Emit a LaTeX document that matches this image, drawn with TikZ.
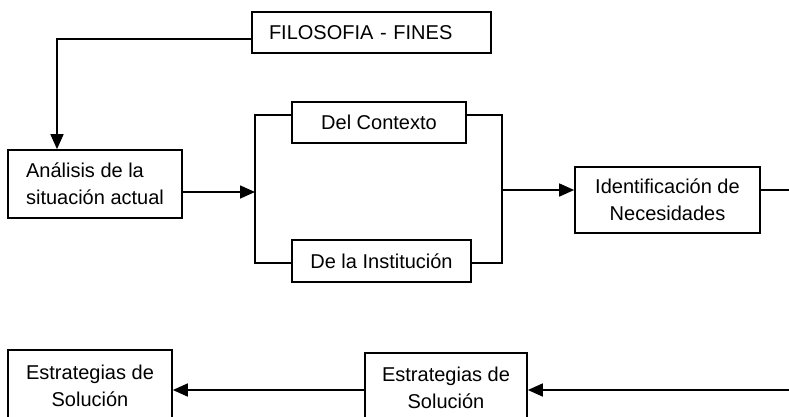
\documentclass[tikz,border=0pt]{standalone}
\usepackage{fontspec}
\setmainfont{Liberation Sans}
\usetikzlibrary{arrows.meta}

\begin{document}
\begin{tikzpicture}[x=1pt, y=-1pt, line width=1.6pt,
    bloque/.style={draw, line width=1.7pt, inner sep=0pt, font=\fontsize{20}{27}\selectfont},
    flecha/.style={-{Triangle[length=15pt,width=13pt]}}]
    \useasboundingbox (0,0) rectangle (789,416);
    \clip (0,0) rectangle (789,416);

    \node[bloque, minimum width=239, minimum height=41, text width=205, inner xsep=17pt, align=left] (fines) at (371.5,32.5) {FILOSOFIA - FINES};
    \node[bloque, minimum width=174, minimum height=68, align=left] (analisis) at (95,184) {Análisis de la\\situación actual};
    \node[bloque, minimum width=174, minimum height=41] (contexto) at (379,122.5) {Del Contexto};
    \node[bloque, minimum width=179, minimum height=42] (institucion) at (381.5,261) {De la Institución};
    \node[bloque, minimum width=185, minimum height=66, align=center] (necesidades) at (667.5,200) {Identificación de\\Necesidades};
    \node[bloque, minimum width=164, minimum height=72, align=center] (solucion1) at (90,386) {Estrategias de\\Solución};
    \node[bloque, minimum width=162, minimum height=70, align=center] (solucion2) at (446,388) {Estrategias de\\Solución};

    \coordinate (codo) at (57,39);
    \coordinate (izqarriba) at (255,115);
    \coordinate (izqabajo) at (255,263);
    \coordinate (ramaizq) at (255,192);
    \coordinate (derarriba) at (502,115);
    \coordinate (derabajo) at (502,263);
    \coordinate (ramader) at (502,190);
    \coordinate (salida) at (789,190);
    \coordinate (entrada) at (789,390);

    \draw[flecha] (fines.west |- codo) -- (codo) -- (codo |- analisis.north);
    \draw[flecha] (analisis.east |- ramaizq) -- (ramaizq);
    \draw (contexto.west |- izqarriba) -- (izqarriba) -- (izqabajo) -- (institucion.west |- izqabajo);
    \draw (contexto.east |- derarriba) -- (derarriba) -- (derabajo) -- (institucion.east |- derabajo);
    \draw[flecha] (ramader) -- (necesidades.west |- ramader);
    \draw (necesidades.east |- salida) -- (salida);
    \draw[flecha] (entrada) -- (solucion2.east |- entrada);
    \draw[flecha] (solucion2.west |- entrada) -- (solucion1.east |- entrada);
\end{tikzpicture}
\end{document}
